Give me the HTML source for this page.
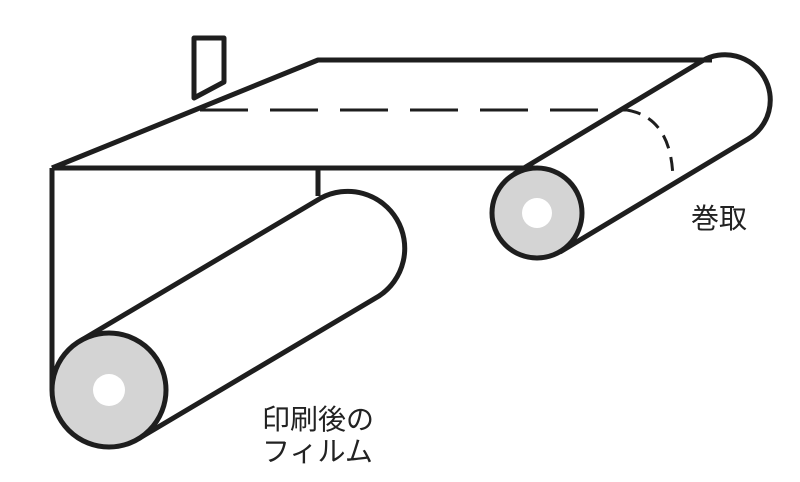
<!DOCTYPE html>
<html><head><meta charset="utf-8"><style>
html,body{margin:0;padding:0;background:#fff;}
svg{display:block}
text{font-family:"Liberation Sans","Noto Sans CJK JP",sans-serif;fill:#222;font-size:28px}
</style></head><body>
<svg width="800" height="482" viewBox="0 0 800 482" xmlns="http://www.w3.org/2000/svg">
<g stroke="#1e1e1e" stroke-width="5" fill="none" stroke-linejoin="round">
<path d="M52 168 L318 60 L712 60"/>
<path d="M52 168 L535 168"/>
<path d="M52 168 L52 390"/>
<path d="M318 168 L318 196"/>
<path d="M194 38 L224 38 L224 82 L194 98 Z"/>
<path d="M200 110 L627 110" stroke-width="3" stroke-dasharray="48,22"/>
<path d="M627 110 Q672 118 673 180" stroke-width="3" stroke-dasharray="14,9"/>
<path d="M80 341 L321 198 A57 57 0 0 1 379 296 L138 439" fill="#fff"/>
<circle cx="109" cy="390" r="57" fill="#d4d4d4"/>
<circle cx="109" cy="390" r="16" fill="#fff" stroke="none"/>
<path d="M514 174 L702 61 A45 45 0 0 1 748 139 L560 252" fill="none"/>
<circle cx="537" cy="213" r="45" fill="#d4d4d4"/>
<circle cx="537" cy="213" r="15" fill="#fff" stroke="none"/>
</g>
<text x="262" y="429">印刷後の</text>
<text x="262" y="461">フィルム</text>
<text x="691" y="228">巻取</text>
</svg>
</body></html>
